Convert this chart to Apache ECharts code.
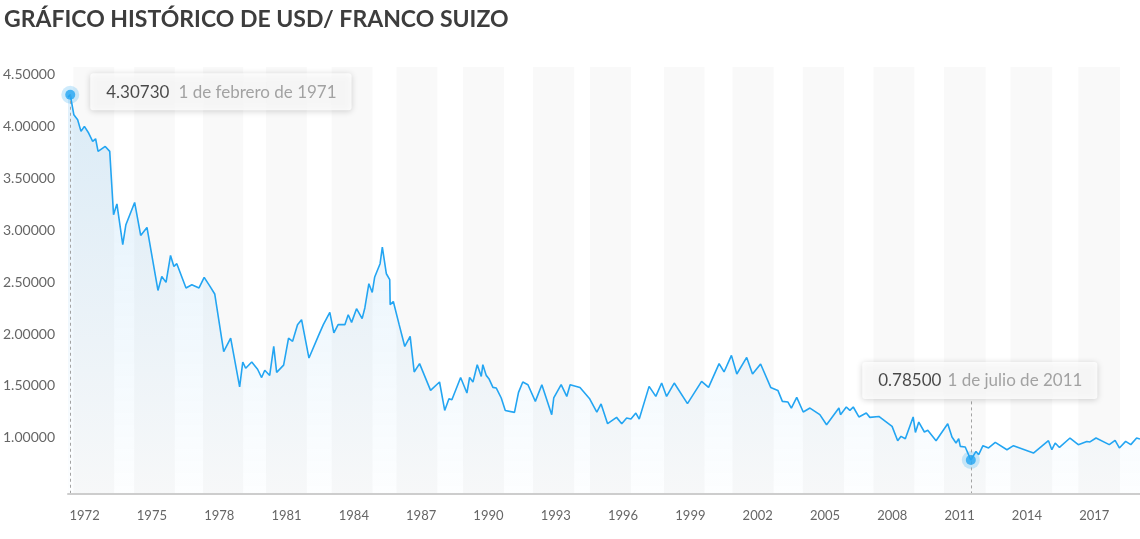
<!DOCTYPE html>
<html><head><meta charset="utf-8">
<script src="https://cdn.jsdelivr.net/npm/echarts@6/dist/echarts.min.js"></script>
<style>html,body{margin:0;padding:0;background:#fff}#c{width:1140px;height:539px}</style>
</head><body><div id="c"></div>
<script>
const titleText = 'GRÁFICO HISTÓRICO DE USD/ FRANCO SUIZO';
const years = [1971.26,1971.36,1971.52,1971.69,1971.84,1971.99,1972.18,1972.36,1972.49,1972.60,1972.92,1973.12,1973.29,1973.44,1973.70,1973.84,1974.23,1974.50,1974.78,1975.27,1975.44,1975.63,1975.83,1975.98,1976.11,1976.52,1976.78,1977.10,1977.33,1977.59,1977.80,1978.20,1978.51,1978.91,1979.05,1979.18,1979.45,1979.71,1979.89,1980.03,1980.25,1980.43,1980.56,1980.87,1981.09,1981.27,1981.49,1981.67,1982.00,1982.41,1982.64,1982.93,1983.11,1983.30,1983.60,1983.75,1983.90,1984.12,1984.37,1984.49,1984.67,1984.82,1984.93,1985.17,1985.27,1985.45,1985.60,1985.62,1985.76,1986.02,1986.27,1986.51,1986.69,1986.93,1987.42,1987.82,1988.05,1988.24,1988.37,1988.76,1989.04,1989.16,1989.31,1989.50,1989.68,1989.75,1989.90,1990.02,1990.20,1990.35,1990.57,1990.75,1991.16,1991.34,1991.53,1991.76,1992.09,1992.38,1992.82,1992.91,1993.24,1993.49,1993.64,1994.08,1994.50,1994.83,1995.02,1995.31,1995.71,1995.94,1996.16,1996.35,1996.57,1996.72,1997.16,1997.46,1997.72,1997.94,1998.28,1998.87,1999.50,1999.81,2000.28,2000.50,2000.83,2001.07,2001.51,2001.77,2002.13,2002.58,2002.90,2003.10,2003.35,2003.50,2003.74,2004.03,2004.33,2004.77,2005.07,2005.62,2005.69,2005.95,2006.11,2006.26,2006.51,2006.84,2007.00,2007.40,2007.99,2008.24,2008.39,2008.58,2008.93,2009.03,2009.18,2009.43,2009.58,2009.95,2010.47,2010.66,2010.84,2010.96,2011.03,2011.25,2011.50,2011.73,2011.85,2012.04,2012.29,2012.59,2013.11,2013.40,2014.29,2014.96,2015.11,2015.26,2015.45,2015.92,2016.29,2016.67,2016.81,2017.08,2017.67,2017.93,2018.12,2018.40,2018.63,2018.89,2019.04];
const rates = [4.285,4.3073,4.115,4.067,3.954,4.002,3.938,3.857,3.883,3.761,3.809,3.761,3.150,3.254,2.861,3.054,3.269,2.951,3.028,2.420,2.555,2.498,2.758,2.652,2.678,2.444,2.475,2.444,2.546,2.459,2.386,1.83,1.96,1.49,1.73,1.67,1.73,1.66,1.58,1.65,1.60,1.88,1.63,1.70,1.96,1.93,2.09,2.138,1.768,1.977,2.090,2.208,2.010,2.090,2.090,2.186,2.112,2.244,2.148,2.251,2.485,2.401,2.550,2.678,2.839,2.581,2.524,2.283,2.314,2.090,1.880,1.977,1.634,1.714,1.456,1.537,1.263,1.376,1.366,1.581,1.431,1.581,1.537,1.704,1.591,1.704,1.601,1.569,1.485,1.479,1.383,1.263,1.244,1.437,1.537,1.511,1.350,1.511,1.222,1.383,1.511,1.398,1.511,1.485,1.379,1.246,1.326,1.135,1.196,1.135,1.190,1.180,1.238,1.180,1.495,1.398,1.527,1.398,1.527,1.328,1.543,1.485,1.714,1.634,1.794,1.614,1.774,1.614,1.711,1.485,1.456,1.350,1.344,1.286,1.389,1.248,1.286,1.222,1.125,1.286,1.222,1.296,1.263,1.296,1.200,1.238,1.196,1.205,1.109,0.971,1.013,0.990,1.200,1.051,1.151,1.055,1.071,0.971,1.135,1.007,0.949,0.990,0.916,0.910,0.785,0.868,0.836,0.923,0.901,0.955,0.884,0.923,0.852,0.971,0.884,0.949,0.906,0.997,0.933,0.964,0.959,0.997,0.933,0.974,0.901,0.964,0.933,0.997,0.987];
const xTickYears = [1972,1975,1978,1981,1984,1987,1990,1993,1996,1999,2002,2005,2008,2011,2014,2017];
const yTickValues = [1,1.5,2,2.5,3,3.5,4,4.5];
const bandRanges = [[1971.50,1973.32],[1974.21,1976.02],[1977.28,1979.07],[1980.09,1981.90],[1983.01,1984.83],[1985.90,1987.72],[1988.87,1990.69],[1991.98,1993.82],[1994.52,1996.35],[1997.82,1999.63],[2000.88,2002.71],[2004.01,2005.85],[2007.16,2008.98],[2010.30,2012.16],[2013.27,2015.13],[2016.29,2018.15]];
const highlightYears = [1971.36, 2011.5];
const highlightRates = [4.30730, 0.78500];
const highlightDates = ['1 de febrero de 1971', '1 de julio de 2011'];

const X_MIN = 1971.26, X_MAX = 2019.04, Y_MIN = 0.457, Y_MAX = 4.575;
const FONT = 'Lato, "Open Sans", sans-serif';
const BLUE = '#23a5f2';

const chart = echarts.init(document.getElementById('c'), null, {renderer: 'canvas'});

const lineData = years.map((y, i) => [y, rates[i]]);
const labelBase = {
  show: true,
  backgroundColor: '#ffffff',
  borderRadius: 3,
  padding: [9, 15, 8, 16],
  shadowBlur: 6,
  shadowColor: 'rgba(0,0,0,0.22)',
  shadowOffsetY: 1,
  formatter: p => '{v|' + p.value[2] + '}{d|' + p.value[3] + '}',
  rich: {
    v: {fontFamily: FONT, fontSize: 17, color: '#1d1d1d', lineHeight: 20},
    d: {fontFamily: FONT, fontSize: 17, color: '#8d8d8d', lineHeight: 20, padding: [0, 0, 0, 9]}
  }
};
const highlightData = highlightYears.map((y, i) => {
  const item = {value: [y, highlightRates[i], highlightRates[i].toFixed(5), highlightDates[i]]};
  item.label = i === 0
    ? Object.assign({}, labelBase, {position: 'right', distance: 15, offset: [0, -3]})
    : Object.assign({}, labelBase, {position: 'top', distance: 56, offset: [9, 0], rich: {
        v: labelBase.rich.v,
        d: Object.assign({}, labelBase.rich.d, {padding: [0, 0, 0, 6]})
      }});
  return item;
});

chart.setOption({
  animation: false,
  title: {
    text: titleText, left: -1, top: 3,
    textStyle: {fontFamily: FONT, fontSize: 23, fontWeight: 'bold', color: '#3d3d3d'}
  },
  grid: {left: 66, right: 0, top: 67, bottom: 45},
  xAxis: {
    type: 'value', min: X_MIN, max: X_MAX, z: 10,
    axisLine: {show: true, lineStyle: {color: '#cdcdcd', width: 2}},
    axisTick: {show: false},
    splitLine: {show: false},
    axisLabel: {customValues: xTickYears, color: '#666', fontSize: 13, margin: 15, fontFamily: FONT, formatter: v => String(Math.round(v))}
  },
  yAxis: {
    type: 'value', min: Y_MIN, max: Y_MAX,
    axisLine: {show: false}, axisTick: {show: false}, splitLine: {show: false},
    axisLabel: {customValues: yTickValues, color: '#666', fontSize: 14, fontFamily: FONT, align: 'left', margin: 65, formatter: v => v.toFixed(5)}
  },
  series: [
    {
      type: 'line', data: lineData, symbol: 'none', z: 3,
      lineStyle: {color: BLUE, width: 1.6},
      areaStyle: {color: new echarts.graphic.LinearGradient(0, 0, 0, 1, [
        {offset: 0, color: 'rgba(35,150,230,0.20)'},
        {offset: 1, color: 'rgba(35,150,230,0.015)'}
      ])},
      markArea: {silent: true, z: 1, itemStyle: {color: '#f9f9f9'}, data: bandRanges.map(r => [{xAxis: r[0]}, {xAxis: r[1]}])}
    },
    {
      type: 'scatter', data: highlightYears.map((y, i) => [y, highlightRates[i]]), symbolSize: 18, z: 4, silent: true,
      itemStyle: {color: 'rgba(35,165,242,0.28)'}
    },
    {
      type: 'scatter', data: highlightData, symbolSize: 10, z: 5, silent: true,
      itemStyle: {color: BLUE},
      markLine: {
        silent: true, symbol: ['none', 'none'], label: {show: false},
        lineStyle: {type: [3, 3], color: '#a3a3a3', width: 1},
        data: [
          [{coord: [highlightYears[0], highlightRates[0]]}, {coord: [highlightYears[0], Y_MIN]}],
          [{coord: [highlightYears[1], 1.35]}, {coord: [highlightYears[1], Y_MIN]}]
        ]
      }
    }
  ]
});
</script></body></html>
